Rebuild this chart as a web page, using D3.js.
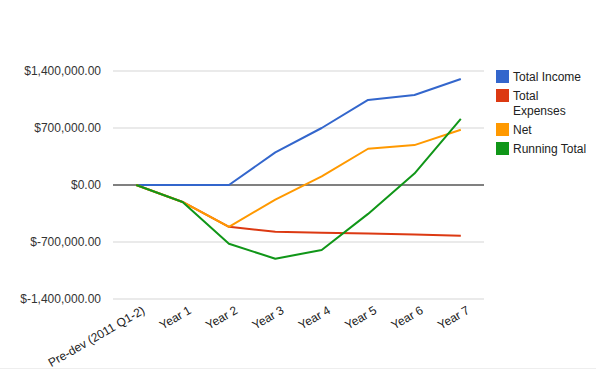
<!DOCTYPE html>
<html>
<head>
<meta charset="utf-8">
<script src="https://cdn.jsdelivr.net/npm/d3@7"></script>
<style>
  body { margin: 0; background: #fff; }
  svg { display: block; font-family: Arial, "Liberation Sans", sans-serif; }
</style>
</head>
<body>
<svg id="chart"></svg>
<script>
// categories along the x axis
const periods = ["Pre-dev (2011 Q1-2)", "Year 1", "Year 2", "Year 3", "Year 4", "Year 5", "Year 6", "Year 7"];

// series values
const totalIncome = [0, 0, 0, 400000, 700000, 1045000, 1106000, 1302000];
const totalExpenses = [0, -208000, -514000, -575000, -587000, -595000, -607000, -624000];
const net = [0, -208000, -514000, -179000, 106000, 445000, 490000, 678000];
const runningTotal = [0, -208000, -722000, -905000, -799000, -355000, 140000, 812000];

const yTicks = [-1400000, -700000, 0, 700000, 1400000];

const seriesNames = ["Total Income", "Total Expenses", "Net", "Running Total"];
const seriesColors = ["#3366cc", "#dc3912", "#ff9900", "#109618"];
const seriesValues = [totalIncome, totalExpenses, net, runningTotal];

const width = 596, height = 371;
const margin = { top: 71, right: 112, bottom: 72, left: 113 };
const innerW = width - margin.left - margin.right;
const innerH = height - margin.top - margin.bottom;

const svg = d3.select("#chart").attr("width", width).attr("height", height);
const g = svg.append("g").attr("transform", `translate(${margin.left},${margin.top})`);

const x = d3.scalePoint().domain(periods).range([0, innerW]).padding(0.5);
const y = d3.scaleLinear().domain([-1400000, 1400000]).range([innerH, 0]);

const fmt = v => (v < 0 ? "$-" : "$") + d3.format(",.2f")(Math.abs(v));

// gridlines
g.selectAll(".grid")
  .data(yTicks)
  .join("line")
  .attr("x1", 0).attr("x2", innerW)
  .attr("y1", d => y(d)).attr("y2", d => y(d))
  .attr("stroke", d => d === 0 ? "#808080" : "#e3e3e3")
  .attr("stroke-width", d => d === 0 ? 2 : 1.5);

// y axis labels
const yAxis = d3.axisLeft(y).tickValues(yTicks).tickFormat(fmt).tickSize(0).tickPadding(12);
g.append("g").call(yAxis)
  .call(s => s.select(".domain").remove())
  .selectAll("text")
  .attr("fill", "#333")
  .attr("font-size", 12)
  .attr("font-family", "Arial, 'Liberation Sans', sans-serif");

// x axis labels, slanted
const xAxis = d3.axisBottom(x).tickSize(0).tickPadding(0);
g.append("g").attr("transform", `translate(0,${innerH})`).call(xAxis)
  .call(s => s.select(".domain").remove())
  .selectAll("text")
  .attr("fill", "#222")
  .attr("font-size", 12)
  .attr("font-family", "Arial, 'Liberation Sans', sans-serif")
  .attr("text-anchor", "end")
  .attr("dy", "0.35em")
  .attr("transform", "translate(7,10) rotate(-30)");

// lines
const line = d3.line()
  .x((d, i) => x(periods[i]))
  .y(d => y(d));

g.selectAll(".series")
  .data(seriesValues)
  .join("path")
  .attr("fill", "none")
  .attr("stroke", (d, i) => seriesColors[i])
  .attr("stroke-width", 2)
  .attr("stroke-linejoin", "round")
  .attr("d", line);

// legend
const legend = svg.append("g").attr("transform", "translate(496,70)");
const rows = [
  { name: ["Total Income"], y: 0 },
  { name: ["Total", "Expenses"], y: 19 },
  { name: ["Net"], y: 53 },
  { name: ["Running Total"], y: 72 }
];
rows.forEach((r, i) => {
  const item = legend.append("g").attr("transform", `translate(0,${r.y})`);
  item.append("rect")
    .attr("width", 13).attr("height", 13)
    .attr("fill", seriesColors[i]);
  r.name.forEach((t, j) => {
    item.append("text")
      .attr("x", 17).attr("y", 11 + j * 15)
      .attr("font-size", 12)
      .attr("fill", "#222")
      .text(t);
  });
});

// faint rule at the bottom edge
svg.append("line")
  .attr("x1", 0).attr("x2", width)
  .attr("y1", height - 2.5).attr("y2", height - 2.5)
  .attr("stroke", "#eeeeee")
  .attr("stroke-width", 1);
</script>
</body>
</html>
